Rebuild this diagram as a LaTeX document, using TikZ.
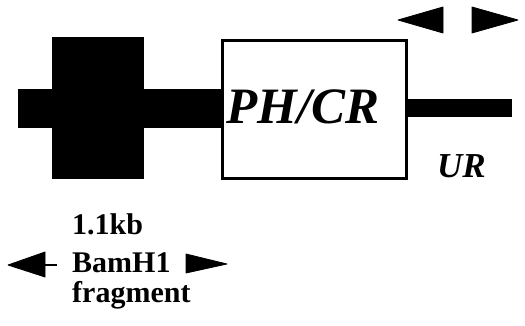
\documentclass[tikz,border=0pt]{standalone}
\usepackage{fontspec}
\setmainfont{Liberation Serif}
\begin{document}
\begin{tikzpicture}[x=1pt,y=-1pt,
  ink/.style={fill=black,draw=none},
  lbl/.style={inner sep=0pt,anchor=base west,font=\bfseries\fontsize{30}{30}\selectfont},
  tri/.style={fill=black,draw=black,line width=0.8pt,line join=round}]
\useasboundingbox (0,0) rectangle (525,326);
% thick bar and black block
\fill[ink] (18,89) rectangle (221,128);
\node[ink,minimum width=92pt,minimum height=142pt,inner sep=0pt,anchor=north west] (block) at (52,37) {};
% PH/CR box
\node[draw=black,line width=3pt,fill=white,minimum width=184pt,minimum height=138pt,inner sep=0pt,anchor=north west] (box) at (220.5,39.5) {};
\node[inner sep=0pt,anchor=base,font=\bfseries\itshape\fontsize{51}{51}\selectfont] (phcr) at (303,124) {PH/CR};
% thin right bar
\coordinate (barend) at (512,108);
\fill[ink] (box.east |- 0,99) rectangle (512,117);
% UR
\node[inner sep=0pt,anchor=base west,font=\bfseries\itshape\fontsize{35}{35}\selectfont] (ur) at (437,178) {UR};
% top arrowheads
\coordinate (tl) at (398,20);
\coordinate (tr) at (518,20);
\filldraw[tri] (tl) -- (443,7) -- (443,33) -- cycle;
\filldraw[tri] (tr) -- (472,7) -- (472,33) -- cycle;
% bottom labels
\node[lbl] (l1) at (72,234) {1.1kb};
\node[lbl] (l2) at (72,272) {BamH1};
\node[lbl] (l3) at (72,302) {fragment};
% bottom arrows
\coordinate (bl) at (8,265);
\coordinate (br) at (227,264);
\filldraw[tri] (bl) -- (45,252) -- (45,277) -- cycle;
\draw[line width=2.5pt] (44,265) -- (57,265);
\filldraw[tri] (br) -- (186,254) -- (186,273) -- cycle;
\end{tikzpicture}
\end{document}
